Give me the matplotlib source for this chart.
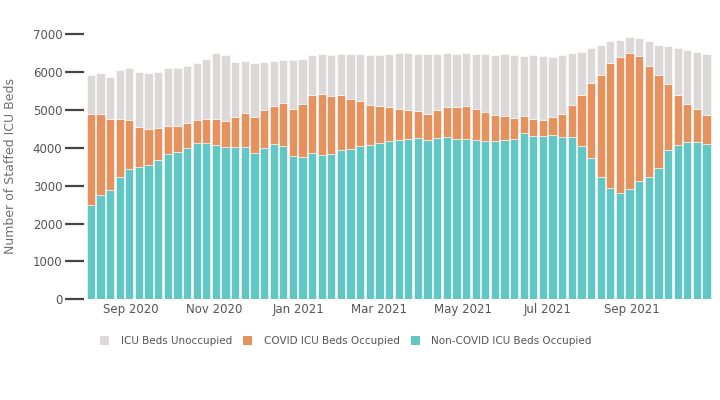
import numpy as np
import pandas as pd
import matplotlib
matplotlib.use('Agg')
import matplotlib.pyplot as plt
import matplotlib.dates as mdates
from matplotlib.patches import Patch

# weekly ICU bed counts, first week starting 2020-08-03
weeks = pd.date_range('2020-08-03', periods=65, freq='7D')

non_covid = [2490, 2750, 2875, 3220, 3440, 3490, 3540, 3675, 3840, 3885,
             4000, 4120, 4120, 4070, 4010, 4020, 4010, 3850, 4000, 4100,
             4055, 3770, 3765, 3860, 3805, 3840, 3930, 3965, 4050, 4070,
             4115, 4165, 4210, 4230, 4265, 4205, 4265, 4290, 4220, 4230,
             4210, 4175, 4165, 4210, 4230, 4380, 4315, 4315, 4325, 4290,
             4290, 4055, 3725, 3225, 2945, 2795, 2900, 3110, 3235, 3475,
             3950, 4060, 4150, 4145, 4105]

covid = [2390, 2130, 1880, 1535, 1290, 1065, 960, 845, 725, 685,
         660, 620, 635, 695, 695, 800, 905, 970, 1005, 1015,
         1130, 1240, 1380, 1540, 1620, 1525, 1450, 1320, 1190, 1065,
         985, 910, 810, 755, 700, 690, 740, 790, 845, 885,
         820, 775, 695, 625, 560, 465, 435, 425, 475, 600,
         835, 1325, 1975, 2700, 3280, 3595, 3600, 3300, 2930, 2440,
         1740, 1320, 1010, 875, 755]

unoccupied = [1035, 1080, 1125, 1295, 1370, 1435, 1460, 1485, 1535, 1530,
              1485, 1500, 1600, 1725, 1730, 1450, 1370, 1430, 1255, 1180,
              1135, 1305, 1210, 1035, 1055, 1090, 1090, 1185, 1230, 1310,
              1345, 1390, 1480, 1515, 1515, 1570, 1475, 1420, 1400, 1375,
              1435, 1515, 1595, 1630, 1645, 1575, 1685, 1670, 1585, 1555,
              1365, 1135, 930, 790, 605, 450, 420, 490, 640, 795,
              1000, 1260, 1415, 1505, 1610]

labels = ['ICU Beds Unoccupied', 'COVID ICU Beds Occupied', 'Non-COVID ICU Beds Occupied']
c_unocc = '#ddd8d8'
c_covid = '#e5925f'
c_noncovid = '#62c6c4'

plt.rcParams['font.family'] = 'DejaVu Sans'

fig = plt.figure(figsize=(7.2, 4), dpi=100)
ax = fig.add_axes([84/720, 100.7/400, 628/720, 269/400])

nc = np.array(non_covid)
cv = np.array(covid)
un = np.array(unoccupied)
w = 6.0
ax.bar(weeks, nc, width=w, color=c_noncovid, edgecolor='white', linewidth=0.4)
ax.bar(weeks, cv, width=w, bottom=nc, color=c_covid, edgecolor='white', linewidth=0.4)
ax.bar(weeks, un, width=w, bottom=nc + cv, color=c_unocc, edgecolor='white', linewidth=0.4)

ax.set_xlim(pd.Timestamp('2020-07-29'), pd.Timestamp('2021-10-29'))
ax.set_ylim(0, 7100)
ax.set_yticks(range(0, 7001, 1000))

ax.xaxis.set_major_locator(mdates.MonthLocator(bymonth=[1, 3, 5, 7, 9, 11]))
ax.xaxis.set_major_formatter(mdates.DateFormatter('%b %Y'))

for s in ax.spines.values():
    s.set_visible(False)
ax.tick_params(axis='x', length=0, pad=3, labelsize=8.5, labelcolor='#555555')
ax.tick_params(axis='y', direction='out', length=14, width=1.6, color='#444444',
               pad=1.5, labelsize=8.5, labelcolor='#555555')

fig.text(11/720, 1 - 166/400, 'Number of Staffed ICU Beds', rotation=90,
         ha='center', va='center', fontsize=9, color='#707070')

handles = [Patch(facecolor=c_unocc, edgecolor='none'),
           Patch(facecolor=c_covid, edgecolor='none'),
           Patch(facecolor=c_noncovid, edgecolor='none')]
fig.legend(handles, labels, ncol=3, loc='center left',
           bbox_to_anchor=(95/720, 1 - 341/400), frameon=False,
           fontsize=7.5, labelcolor='#555555', handlelength=0.85, handleheight=0.95,
           handletextpad=1.1, columnspacing=1.1, borderpad=0)

fig.savefig('out.png', dpi=100)
